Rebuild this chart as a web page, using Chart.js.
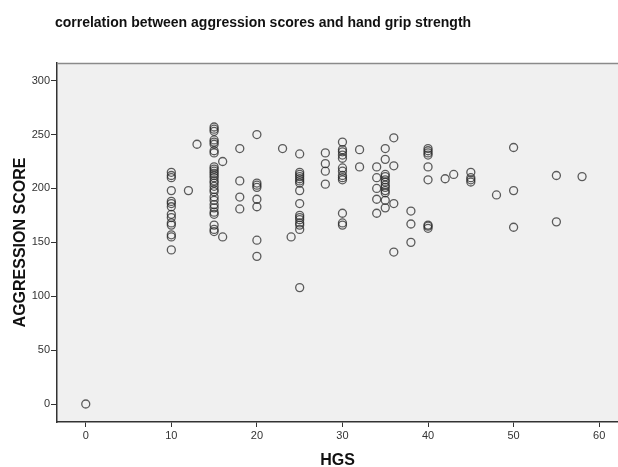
<!DOCTYPE html>
<html lang="en">

<head>
    <meta charset="UTF-8">
    <title>Aggression vs HGS</title>
    <script src="https://cdn.jsdelivr.net/npm/chart.js"></script>
    <style>
        html, body {
            margin: 0;
            padding: 0;
            background: #ffffff;
        }

        #wrap {
            width: 618px;
            height: 467px;
        }
    </style>
</head>

<body>
    <div id="wrap">
        <canvas id="scatter" width="618" height="467"></canvas>
    </div>

    <script>
        // hand grip strength values seen in the plot, and the scores stacked at each one
        const hgsLevels = [0, 10, 12, 13, 15, 16, 18, 20, 23, 24, 25, 28, 30, 32, 34, 35, 36, 38, 40, 42, 43, 45, 48, 50, 55, 58];
        const scoresAtLevel = [
            [0],
            [215, 212, 210, 198, 188, 186, 183, 176, 173, 168, 166, 157, 155, 143],
            [198],
            [241],
            [257, 255, 253, 245, 243, 241, 235, 233, 220, 218, 216, 214, 212, 210, 207, 205, 202, 199, 197, 192, 189, 185, 182, 178, 176, 166, 162, 160],
            [225, 155],
            [237, 207, 192, 181],
            [250, 205, 203, 201, 190, 183, 152, 137],
            [237],
            [155],
            [232, 215, 213, 211, 209, 207, 205, 198, 186, 175, 173, 171, 168, 166, 162, 108],
            [233, 223, 216, 204],
            [243, 236, 234, 231, 228, 219, 216, 212, 210, 208, 177, 168, 166],
            [236, 220],
            [220, 210, 200, 190, 177],
            [237, 227, 213, 211, 208, 206, 203, 201, 198, 196, 189, 182],
            [247, 221, 186, 141],
            [179, 167, 150],
            [237, 235, 233, 231, 220, 208, 166, 165, 163],
            [209],
            [213],
            [215, 210, 208, 206],
            [194],
            [238, 198, 164],
            [212, 169],
            [211]
        ];

        const xTicks = [0, 10, 20, 30, 40, 50, 60];
        const yTicks = [0, 50, 100, 150, 200, 250, 300];

        const chartTitle = 'correlation between aggression scores and hand grip strength';

        // flatten into {x, y} points
        const points = [];
        hgsLevels.forEach((hgs, i) => {
            scoresAtLevel[i].forEach(score => points.push({ x: hgs, y: score }));
        });

        // grey plot background, top frame line and the title text
        const frameAndTitle = {
            id: 'frameAndTitle',
            beforeDraw(chart) {
                const { ctx, chartArea } = chart;
                ctx.save();
                ctx.fillStyle = '#f0f0f0';
                ctx.fillRect(chartArea.left, chartArea.top, chartArea.right - chartArea.left, chartArea.bottom - chartArea.top);
                ctx.restore();
            },
            afterDraw(chart) {
                const { ctx, chartArea } = chart;
                ctx.save();
                ctx.strokeStyle = '#8a8a8a';
                ctx.lineWidth = 1.5;
                ctx.beginPath();
                ctx.moveTo(chartArea.left, chartArea.top + 0.5);
                ctx.lineTo(chartArea.right, chartArea.top + 0.5);
                ctx.stroke();

                ctx.fillStyle = '#111';
                ctx.font = 'bold 14px "Liberation Sans", Arial, sans-serif';
                ctx.textAlign = 'center';
                ctx.textBaseline = 'middle';
                ctx.fillText(chartTitle, 263, 23);
                ctx.restore();
            }
        };

        const tickFont = { family: '"Liberation Sans", Arial, sans-serif', size: 11 };
        const axisTitleFont = { family: '"Liberation Sans", Arial, sans-serif', size: 16, weight: 'bold' };

        const ctx = document.getElementById('scatter').getContext('2d');

        new Chart(ctx, {
            type: 'scatter',
            data: {
                datasets: [{
                    label: 'AGGRESSION SCORE',
                    data: points,
                    pointStyle: 'circle',
                    pointRadius: 4,
                    pointHoverRadius: 4,
                    borderWidth: 1.3,
                    borderColor: 'rgba(40, 40, 40, 0.75)',
                    backgroundColor: 'rgba(0, 0, 0, 0)'
                }]
            },
            options: {
                responsive: false,
                animation: false,
                layout: {
                    autoPadding: false,
                    padding: { top: 63, right: 0, left: 0, bottom: 0 }
                },
                plugins: {
                    legend: { display: false },
                    tooltip: { enabled: false }
                },
                scales: {
                    x: {
                        type: 'linear',
                        min: -3.36,
                        max: 62.2,
                        afterBuildTicks(scale) {
                            scale.ticks = xTicks.map(v => ({ value: v }));
                        },
                        afterFit(scale) {
                            scale.height = 45;
                            scale.paddingLeft = 0;
                            scale.paddingRight = 0;
                        },
                        grid: {
                            drawOnChartArea: false,
                            drawTicks: true,
                            tickLength: 5,
                            color: '#333'
                        },
                        border: { color: '#333', width: 1.5 },
                        ticks: {
                            color: '#333',
                            font: tickFont,
                            padding: 2,
                            maxRotation: 0
                        },
                        title: {
                            display: true,
                            text: 'HGS',
                            color: '#111',
                            font: axisTitleFont,
                            padding: { top: 0, bottom: -3 }
                        }
                    },
                    y: {
                        type: 'linear',
                        min: -16.7,
                        max: 316.4,
                        afterBuildTicks(scale) {
                            scale.ticks = yTicks.map(v => ({ value: v }));
                        },
                        afterFit(scale) {
                            scale.width = 57;
                            scale.paddingTop = 0;
                            scale.paddingBottom = 0;
                        },
                        grid: {
                            drawOnChartArea: false,
                            drawTicks: true,
                            tickLength: 6,
                            color: '#333'
                        },
                        border: { color: '#333', width: 1.5 },
                        ticks: {
                            color: '#333',
                            font: tickFont,
                            padding: 1
                        },
                        title: {
                            display: true,
                            text: 'AGGRESSION SCORE',
                            color: '#111',
                            font: axisTitleFont,
                            padding: { top: 11, bottom: 0 }
                        }
                    }
                }
            },
            plugins: [frameAndTitle]
        });
    </script>
</body>

</html>
